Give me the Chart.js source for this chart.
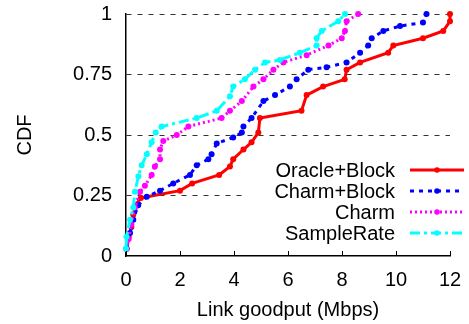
<!DOCTYPE html>
<html>
<head>
<meta charset="utf-8">
<script src="https://cdn.jsdelivr.net/npm/chart.js@4/dist/chart.umd.min.js"></script>
<style>
  html, body { margin: 0; padding: 0; background: #fff; }
  #wrap { width: 469px; height: 324px; }
</style>
</head>
<body>
<div id="wrap"><canvas id="myChart" width="469" height="324"></canvas></div>
<script>
// Link goodput CDF per rate-control scheme
const seriesNames = ['Oracle+Block', 'Charm+Block', 'Charm', 'SampleRate'];

const oracleX = [0.02, 0.1, 0.2, 0.27, 0.35, 0.55, 2.0, 2.45, 3.45, 3.85, 3.97, 4.35, 4.65, 4.9, 4.96, 6.5, 6.69, 7.3, 8.1, 8.17, 8.67, 9.71, 9.9, 11.0, 11.75, 12.0, 12.0];
const oracleY = [0.03, 0.08, 0.12, 0.17, 0.21, 0.24, 0.27, 0.30, 0.335, 0.37, 0.40, 0.44, 0.47, 0.51, 0.57, 0.60, 0.665, 0.70, 0.73, 0.77, 0.80, 0.84, 0.87, 0.90, 0.93, 0.97, 1.0];

const charmBlockX = [0.02, 0.15, 0.27, 0.45, 0.77, 1.26, 1.75, 2.37, 2.62, 3.05, 3.17, 3.36, 3.97, 4.29, 4.35, 4.65, 5.09, 5.52, 6.07, 6.32, 6.75, 7.43, 8.17, 8.67, 8.97, 9.1, 9.53, 10.15, 11.0, 11.13];
const charmBlockY = [0.03, 0.095, 0.15, 0.21, 0.245, 0.27, 0.30, 0.335, 0.375, 0.40, 0.42, 0.465, 0.49, 0.51, 0.535, 0.57, 0.64, 0.665, 0.70, 0.73, 0.77, 0.78, 0.80, 0.84, 0.87, 0.90, 0.93, 0.95, 0.965, 1.0];

const charmX = [0.02, 0.1, 0.2, 0.33, 0.52, 0.7, 0.95, 1.07, 1.26, 1.26, 1.38, 1.88, 2.31, 3.54, 3.85, 4.29, 4.72, 5.09, 5.46, 5.83, 6.69, 7.5, 7.99, 8.11, 8.17, 8.6];
const charmY = [0.03, 0.07, 0.13, 0.20, 0.265, 0.29, 0.335, 0.37, 0.40, 0.44, 0.475, 0.50, 0.535, 0.57, 0.60, 0.64, 0.70, 0.73, 0.77, 0.80, 0.83, 0.87, 0.90, 0.93, 0.97, 1.0];

const sampleRateX = [0.0, 0.02, 0.15, 0.27, 0.33, 0.46, 0.58, 0.77, 0.95, 1.1, 1.32, 2.62, 3.36, 3.85, 3.97, 4.4, 4.78, 5.15, 5.7, 6.44, 7.06, 7.06, 7.25, 7.86, 8.11];
const sampleRateY = [0.03, 0.08, 0.15, 0.20, 0.265, 0.33, 0.375, 0.42, 0.47, 0.51, 0.535, 0.57, 0.60, 0.66, 0.70, 0.73, 0.77, 0.80, 0.81, 0.84, 0.87, 0.90, 0.93, 0.97, 1.0];

const xTicks = [0, 2, 4, 6, 8, 10, 12];
const yTicks = [0, 0.25, 0.5, 0.75, 1];

const FONT = 'Liberation Sans, Arial, Helvetica, sans-serif';

const toPoints = (xs, ys) => xs.map((x, i) => ({ x: x, y: ys[i] }));

const makeSet = (label, xs, ys, color, dash, order) => ({
    label: label,
    data: toPoints(xs, ys),
    showLine: true,
    borderColor: color,
    backgroundColor: color,
    borderWidth: 3,
    borderDash: dash,
    pointRadius: 3,
    pointBorderWidth: 0,
    pointHoverRadius: 3,
    clip: false,
    order: order
});

// gnuplot-style key: right-aligned text, line sample to the right
const keyPlugin = {
    id: 'key',
    afterDatasetsDraw(chart) {
        const ctx = chart.ctx;
        ctx.save();
        ctx.fillStyle = '#fff';
        ctx.fillRect(245, 158, 224, 86);
        ctx.font = '20px ' + FONT;
        ctx.textAlign = 'right';
        ctx.textBaseline = 'middle';
        const rowY = [170, 191, 212, 233];
        chart.data.datasets.forEach((ds, i) => {
            const y = rowY[i];
            ctx.fillStyle = '#000';
            ctx.fillText(ds.label, 395, y + 1);
            ctx.strokeStyle = ds.borderColor;
            ctx.lineWidth = ds.borderWidth;
            ctx.setLineDash(ds.borderDash);
            ctx.beginPath();
            ctx.moveTo(410, y);
            ctx.lineTo(464, y);
            ctx.stroke();
            ctx.setLineDash([]);
            ctx.fillStyle = ds.borderColor;
            ctx.beginPath();
            ctx.arc(437, y, 2.8, 0, Math.PI * 2);
            ctx.fill();
        });
        ctx.restore();
    }
};

// inward tick marks on the x axis
const innerTicks = {
    id: 'innerTicks',
    afterDraw(chart) {
        const ctx = chart.ctx;
        const xs = chart.scales.x;
        const bottom = chart.chartArea.bottom;
        ctx.save();
        ctx.strokeStyle = '#000';
        ctx.lineWidth = 1;
        xTicks.forEach(v => {
            const px = Math.round(xs.getPixelForValue(v)) + 0.5;
            ctx.beginPath();
            ctx.moveTo(px, bottom);
            ctx.lineTo(px, bottom - 5);
            ctx.stroke();
        });
        ctx.restore();
    }
};

const ctx = document.getElementById('myChart').getContext('2d');
const myChart = new Chart(ctx, {
    type: 'scatter',
    data: {
        datasets: [
            makeSet(seriesNames[0], oracleX, oracleY, '#ff0000', [], 4),
            makeSet(seriesNames[1], charmBlockX, charmBlockY, '#0000ff', [4, 5], 3),
            makeSet(seriesNames[2], charmX, charmY, '#ff00ff', [2, 3], 2),
            makeSet(seriesNames[3], sampleRateX, sampleRateY, '#00ffff', [10, 4, 3, 4], 1)
        ]
    },
    options: {
        responsive: false,
        animation: false,
        events: [],
        layout: { padding: { top: 14, right: 19, left: 0, bottom: 0 } },
        plugins: {
            legend: { display: false },
            tooltip: { enabled: false }
        },
        scales: {
            x: {
                type: 'linear',
                min: 0,
                max: 12,
                afterFit: s => { s.height = 68; s.paddingLeft = 0; s.paddingRight = 0; },
                afterBuildTicks: s => { s.ticks = xTicks.map(v => ({ value: v })); },
                grid: { display: false, drawTicks: false },
                border: { display: true, color: '#000', width: 1.5 },
                ticks: { color: '#000', font: { family: FONT, size: 20 }, padding: 12, maxRotation: 0, callback: v => String(v) },
                title: {
                    display: true,
                    text: 'Link goodput (Mbps)',
                    color: '#000',
                    font: { family: FONT, size: 20 },
                    padding: { top: 0, bottom: 2 }
                }
            },
            y: {
                type: 'linear',
                min: 0,
                max: 1,
                afterFit: s => { s.width = 126; s.paddingTop = 0; s.paddingBottom = 0; },
                afterBuildTicks: s => { s.ticks = yTicks.map(v => ({ value: v })); },
                grid: {
                    drawTicks: false,
                    color: c => (c.tick && c.tick.value === 0) ? 'rgba(0,0,0,0)' : '#333',
                    lineWidth: 1
                },
                border: { display: true, color: '#000', width: 1.5, dash: [5, 6] },
                ticks: { color: '#000', font: { family: FONT, size: 20 }, padding: 14, callback: v => String(v) },
                title: {
                    display: true,
                    text: 'CDF',
                    color: '#000',
                    font: { family: FONT, size: 20 },
                    padding: { top: 13, bottom: 0 }
                }
            }
        }
    },
    plugins: [keyPlugin, innerTicks]
});
</script>
</body>
</html>
